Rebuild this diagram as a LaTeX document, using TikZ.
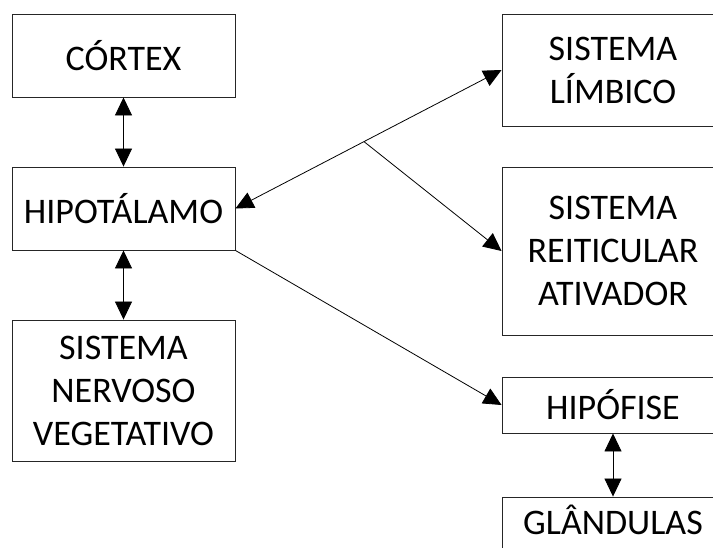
\documentclass[tikz,border=0pt]{standalone}
\usepackage{fontspec}
\setmainfont{Carlito}
\usetikzlibrary{arrows.meta,calc}

\tikzset{
  box/.style={draw=black!85, line width=0.9pt, rectangle, inner sep=0pt,
    minimum width=223pt, align=center,
    font=\fontsize{36}{43}\selectfont},
  link/.style={line width=0.8pt, black},
  tip/.style={-{Triangle[length=18pt,width=17pt]}},
  tips/.style={{Triangle[length=18pt,width=17pt]}-{Triangle[length=18pt,width=17pt]}}
}

\begin{document}
\begin{tikzpicture}[x=1pt,y=-1pt]
  \useasboundingbox (0,0) rectangle (713,547);
  \clip (0,0) rectangle (713,547);

  % left column
  \node[box, minimum height=83pt]  (cortex) at (123.5,55.5)  {CÓRTEX};
  \node[box, minimum height=83pt]  (hipo)   at (123.5,208.5) {HIPOTÁLAMO};
  \node[box, minimum height=141pt] (snv)    at (123.5,390.5) {SISTEMA\\NERVOSO\\VEGETATIVO};

  % right column
  \node[box, minimum width=222pt, minimum height=112pt] (limbico) at (613,70)  {SISTEMA\\LÍMBICO};
  \node[box, minimum width=222pt, minimum height=168pt] (ras)     at (613,251) {SISTEMA\\REITICULAR\\ATIVADOR};
  \node[box, minimum width=222pt, minimum height=56pt]  (hipof)   at (613,405) {HIPÓFISE};
  \node[box, minimum width=222pt, minimum height=56pt]  (gland)   at (613,525)
    {\raisebox{5pt}[\height][\depth]{GLÂNDULAS}};

  % connectors
  \draw[link, tips] (cortex.south) -- (hipo.north);
  \draw[link, tips] (hipo.south) -- (snv.north);
  \draw[link, tips] (hipof.south) -- (gland.north);
  \draw[link, tips] (hipo.east) -- (limbico.west);
  \coordinate (fork) at ($(hipo.east)!0.483!(limbico.west)$);
  \draw[link, tip] (fork) -- (ras.west);
  \draw[link, tip] (hipo.south east) -- (hipof.west);
\end{tikzpicture}
\end{document}
